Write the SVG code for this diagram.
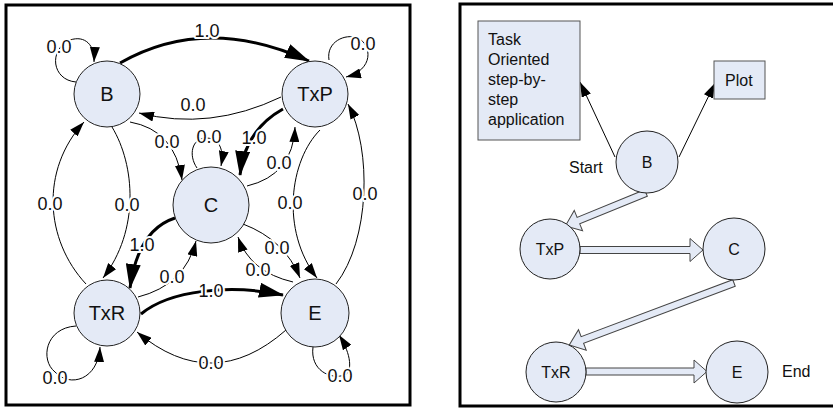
<svg xmlns="http://www.w3.org/2000/svg" width="833" height="409" viewBox="0 0 833 409">
<style>
.frame{fill:none;stroke:#000;stroke-width:3}
.node{fill:#e4eaf6;stroke:#222;stroke-width:1}
.box{fill:#e4eaf6;stroke:#555;stroke-width:1}
.nl{font-family:"Liberation Sans",Arial,sans-serif;font-size:20px;fill:#111;text-anchor:middle}
.nr{font-family:"Liberation Sans",Arial,sans-serif;font-size:16px;fill:#111;text-anchor:middle}
.tx{font-family:"Liberation Sans",Arial,sans-serif;font-size:16px;fill:#111}
.el{font-family:"Liberation Sans",Arial,sans-serif;font-size:18px;fill:#111;text-anchor:middle;paint-order:stroke;stroke:#fff;stroke-width:4;stroke-linejoin:round}
.thin{fill:none;stroke:#000;stroke-width:1;marker-end:url(#a)}
.thick{fill:none;stroke:#000;stroke-width:3;marker-end:url(#A)}
.blk{fill:#e4eaf6;stroke:#444;stroke-width:1}
</style>
<defs>
<marker id="a" markerUnits="userSpaceOnUse" markerWidth="15" markerHeight="10" refX="15" refY="5" orient="auto"><path d="M0,0 L15,5 L0,10 z" fill="#000"/></marker>
<marker id="A" markerUnits="userSpaceOnUse" markerWidth="25" markerHeight="15" refX="24" refY="7.5" orient="auto"><path d="M0,0 L25,7.5 L0,15 z" fill="#000"/></marker>
</defs>
<rect class="frame" x="6" y="5" width="404" height="400"/>
<rect class="frame" x="460" y="4" width="400" height="402"/>
<g id="connectors">
<path class="thick" d="M120 63 Q206 14 309 61"/>
<path class="thin" d="M281 97 Q210 131 139 113"/>
<path class="thin" d="M76 82 C52 80 48 50 70 40 C85 35 95 45 94 62"/>
<path class="thin" d="M329 60 C326 42 345 33 358 38 C372 45 374 70 346 77"/>
<path class="thick" d="M283 109 Q245 130 240 175"/>
<path class="thin" d="M247 186 Q293 175 295 127"/>
<path class="thin" d="M130 122 Q175 130 182 180"/>
<path class="thin" d="M197 168 C188 155 192 138 206 138 C216 138 225 145 221 166"/>
<path class="thin" d="M320 130 C290 160 280 230 317 278"/>
<path class="thin" d="M336 284 C370 240 372 150 348 104"/>
<path class="thin" d="M112 127 C135 165 140 230 103 278"/>
<path class="thin" d="M86 284 C45 240 40 170 84 122"/>
<path class="thick" d="M175 218 Q138 230 130 288"/>
<path class="thin" d="M138 297 Q185 285 196 241"/>
<path class="thick" d="M141 314 C170 290 230 284 283 295"/>
<path class="thin" d="M286 330 Q212 395 137 332"/>
<path class="thin" d="M76 326 C45 328 40 360 55 372 C70 388 98 380 100 347"/>
<path class="thin" d="M313 347 C310 370 330 380 345 375 C352 372 352 355 339 335"/>
<path class="thin" d="M243 224 Q285 240 300 278"/>
<path class="thin" d="M293 282 Q250 272 238 237"/>
<text class="el" x="207" y="37">1.0</text>
<text class="el" x="193" y="111">0.0</text>
<text class="el" x="59" y="53">0.0</text>
<text class="el" x="363" y="50">0.0</text>
<text class="el" x="167" y="148">0.0</text>
<text class="el" x="209" y="143">0.0</text>
<text class="el" x="254" y="144">1.0</text>
<text class="el" x="279" y="169">0.0</text>
<text class="el" x="50" y="210">0.0</text>
<text class="el" x="127" y="211">0.0</text>
<text class="el" x="290" y="209">0.0</text>
<text class="el" x="365" y="200">0.0</text>
<text class="el" x="142" y="251">1.0</text>
<text class="el" x="172" y="283">0.0</text>
<text class="el" x="277" y="254">0.0</text>
<text class="el" x="258" y="276">0.0</text>
<text class="el" x="211" y="297">1.0</text>
<text class="el" x="211" y="369">0.0</text>
<text class="el" x="55" y="384">0.0</text>
<text class="el" x="340" y="382">0.0</text>
<path class="thin" d="M615 157 L580 82"/>
<path class="thin" d="M679 157 L715 83"/>
<polygon class="blk" transform="translate(646,193) rotate(157.8)" points="0,-3.5 73,-3.5 73,-11 87,0 73,11 73,3.5 0,3.5"/>
<polygon class="blk" transform="translate(580,250)" points="0,-3.5 110,-3.5 110,-11.5 123,0 110,11.5 110,3.5 0,3.5"/>
<polygon class="blk" transform="translate(734,283) rotate(159.4)" points="0,-3.5 162,-3.5 162,-11 176,0 162,11 162,3.5 0,3.5"/>
<polygon class="blk" transform="translate(586,371.5)" points="0,-3.5 108,-3.5 108,-11.5 121,0 108,11.5 108,3.5 0,3.5"/>
</g>
<g id="L-B"><circle class="node" cx="107" cy="94" r="33"/><text class="nl" x="107" y="101">B</text></g>
<g id="L-TxP"><circle class="node" cx="315" cy="94" r="33"/><text class="nl" x="315" y="101">TxP</text></g>
<g id="L-C"><circle class="node" cx="211" cy="205" r="38"/><text class="nl" x="211" y="212">C</text></g>
<g id="L-TxR"><circle class="node" cx="107" cy="313" r="33"/><text class="nl" x="107" y="320">TxR</text></g>
<g id="L-E"><circle class="node" cx="315" cy="313" r="34"/><text class="nl" x="315" y="320">E</text></g>
<g id="R-Task"><rect class="box" x="478" y="21" width="102" height="119"/>
<text class="tx" x="488" y="45">Task</text><text class="tx" x="488" y="65">Oriented</text><text class="tx" x="488" y="85">step-by-</text><text class="tx" x="488" y="105">step</text><text class="tx" x="488" y="125">application</text></g>
<g id="R-Plot"><rect class="box" x="714" y="61" width="51" height="38"/><text class="tx" x="725" y="86">Plot</text></g>
<g id="R-B"><circle class="node" cx="647" cy="162" r="31"/><text class="nr" x="647" y="168">B</text></g>
<g id="R-TxP"><circle class="node" cx="550" cy="249" r="30"/><text class="nr" x="550" y="255">TxP</text></g>
<g id="R-C"><circle class="node" cx="734" cy="249" r="31"/><text class="nr" x="734" y="255">C</text></g>
<g id="R-TxR"><circle class="node" cx="556" cy="372" r="30"/><text class="nr" x="556" y="378">TxR</text></g>
<g id="R-E"><circle class="node" cx="737" cy="372" r="31"/><text class="nr" x="737" y="378">E</text></g>
<text class="tx" x="569" y="173">Start</text>
<text class="tx" x="782" y="377">End</text>
</svg>
